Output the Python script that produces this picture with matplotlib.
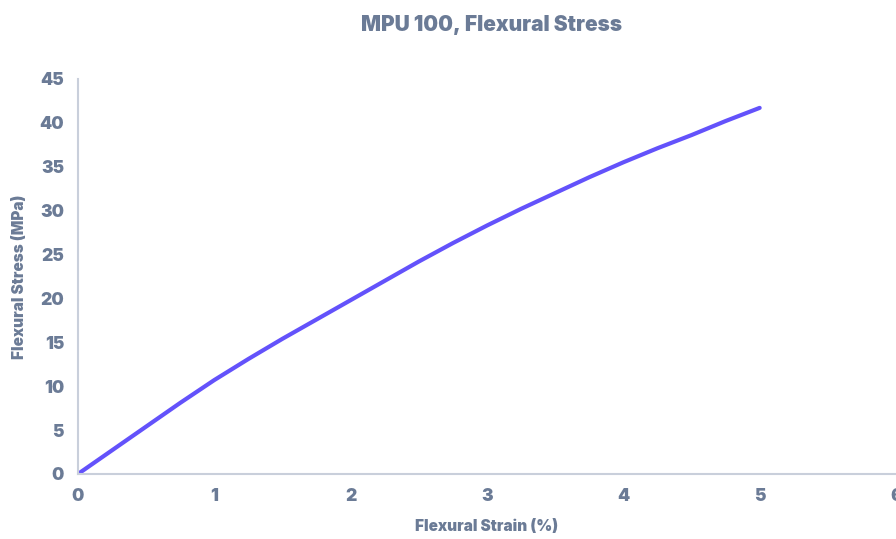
import matplotlib.pyplot as plt

strain = [0, 0.25, 0.5, 0.75, 1, 1.25, 1.5, 1.75, 2, 2.25, 2.5,
          2.75, 3, 3.25, 3.5, 3.75, 4, 4.25, 4.5, 4.75, 5]
stress = [0, 2.7, 5.4, 8.1, 10.7, 13.1, 15.4, 17.6, 19.8, 22.0, 24.2,
          26.3, 28.3, 30.2, 32.0, 33.8, 35.5, 37.1, 38.6, 40.2, 41.7]

text_col = '#6b7b96'
spine_col = '#c9cfdb'
line_col = '#6352fb'

plt.rcParams['font.family'] = ['Inter', 'DejaVu Sans']

fig = plt.figure(figsize=(8.96, 5.39), dpi=100)
ax = fig.add_axes([0.087, 0.1206, 0.913, 0.733])

ax.plot(strain, stress, color=line_col, linewidth=3,
        solid_capstyle='round', solid_joinstyle='round')

ax.set_xlim(0, 6)
ax.set_ylim(0, 45)
ax.set_xticks(range(0, 7))
ax.set_yticks(range(0, 46, 5))

for s in ['top', 'right']:
    ax.spines[s].set_visible(False)
for s in ['left', 'bottom']:
    ax.spines[s].set_color(spine_col)
    ax.spines[s].set_linewidth(1.5)

ax.tick_params(length=0, pad=10, labelsize=12.5, labelcolor=text_col)
for lbl in ax.get_xticklabels() + ax.get_yticklabels():
    lbl.set_fontweight(900)

ax.set_xlabel('Flexural Strain (%)', fontsize=11, fontweight=900, color=text_col, labelpad=10)
ax.set_ylabel('Flexural Stress (MPa)', fontsize=11, fontweight=900, color=text_col, labelpad=9)
fig.suptitle('MPU 100, Flexural Stress', x=0.549, y=0.972, fontsize=15, fontweight=900, color=text_col)

fig.savefig('out.png', dpi=100)
